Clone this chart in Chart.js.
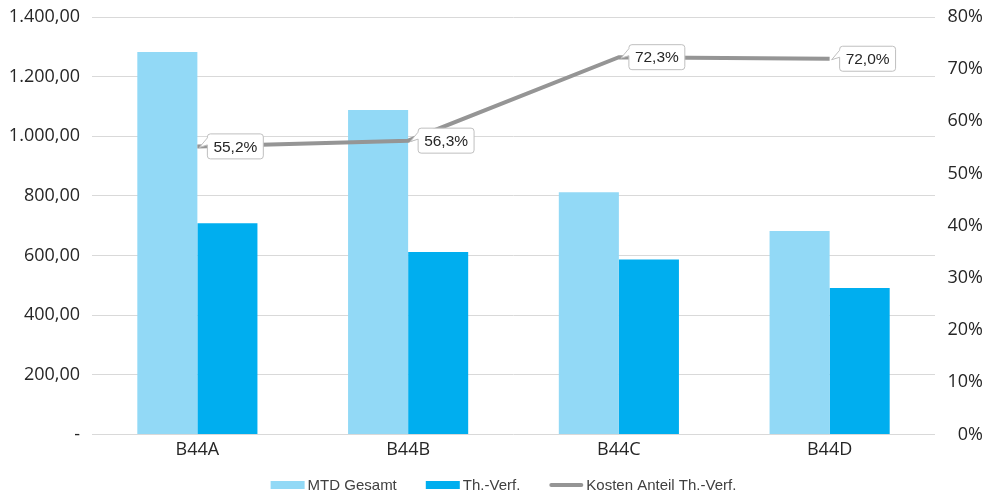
<!DOCTYPE html>
<html>
<head>
<meta charset="utf-8">
<script src="https://cdn.jsdelivr.net/npm/chart.js@4.4.1/dist/chart.umd.min.js"></script>
<style>
  html, body { margin: 0; padding: 0; background: #ffffff; }
  #wrap { width: 993px; height: 495px; position: relative; }
</style>
</head>
<body>
<div id="wrap"><canvas id="chart"></canvas></div>
<script>
// Categories and series
const categories = ['B44A', 'B44B', 'B44C', 'B44D'];
const mtdGesamt = [1283, 1088, 812, 682];
const thVerf = [708, 612, 587, 491];
const kostenAnteil = [55.2, 56.3, 72.3, 72.0]; // percent

const leftTicks = [0, 200, 400, 600, 800, 1000, 1200, 1400];
const rightTicks = [0, 10, 20, 30, 40, 50, 60, 70, 80];

// German number format: 1.400,00
function fmtDe(v, dec) {
  const s = v.toFixed(dec);
  const parts = s.split('.');
  const intPart = parts[0].replace(/\B(?=(\d{3})+(?!\d))/g, '.');
  return parts.length > 1 ? intPart + ',' + parts[1] : intPart;
}

// Callout boxes next to each point of the percentage line
const calloutPlugin = {
  id: 'callouts',
  afterDatasetsDraw(chart) {
    const ctx = chart.ctx;
    const meta = chart.getDatasetMeta(2);
    const ds = chart.data.datasets[2];
    ctx.save();
    ctx.font = '15.5px "Liberation Sans", Arial, sans-serif';
    meta.data.forEach((pt, i) => {
      const text = fmtDe(ds.data[i], 1) + '%';
      const tw = ctx.measureText(text).width;
      const w = tw + 12, h = 25;
      const left = pt.x + 10, top = pt.y - h / 2;
      const r = 3;
      ctx.beginPath();
      ctx.moveTo(left + r, top);
      ctx.lineTo(left + w - r, top);
      ctx.arcTo(left + w, top, left + w, top + r, r);
      ctx.lineTo(left + w, top + h - r);
      ctx.arcTo(left + w, top + h, left + w - r, top + h, r);
      ctx.lineTo(left + r, top + h);
      ctx.arcTo(left, top + h, left, top + h - r, r);
      ctx.lineTo(left, top + 11);
      ctx.lineTo(pt.x + 2, pt.y + 1);
      ctx.lineTo(left, top + 4);
      ctx.arcTo(left, top, left + r, top, r);
      ctx.closePath();
      ctx.fillStyle = '#ffffff';
      ctx.fill();
      ctx.strokeStyle = '#bfbfbf';
      ctx.lineWidth = 1;
      ctx.stroke();
      ctx.fillStyle = '#262626';
      ctx.textBaseline = 'middle';
      ctx.textAlign = 'left';
      ctx.fillText(text, left + 6, top + h / 2 + 1);
    });
    ctx.restore();
  }
};

// Legend row under the axis: swatch, label, in dataset order
const legendRowPlugin = {
  id: 'legendRow',
  afterDraw(chart) {
    const ctx = chart.ctx;
    const sw = 34, gap = 3, spacing = 29, cy = 485;
    ctx.save();
    ctx.font = '15px "Liberation Sans", Arial, sans-serif';
    const items = chart.data.datasets.map(ds => ({
      ds, tw: ctx.measureText(ds.label).width
    }));
    const total = items.reduce((s, it) => s + sw + gap + it.tw, 0) + spacing * (items.length - 1);
    let x = 503.5 - total / 2;
    items.forEach(it => {
      if (it.ds.type === 'line') {
        ctx.strokeStyle = it.ds.borderColor;
        ctx.lineWidth = 4;
        ctx.lineCap = 'round';
        ctx.beginPath();
        ctx.moveTo(x + 2, cy);
        ctx.lineTo(x + sw - 2, cy);
        ctx.stroke();
      } else {
        ctx.fillStyle = it.ds.backgroundColor;
        ctx.fillRect(x, cy - 4, sw, 8);
      }
      x += sw + gap;
      ctx.fillStyle = '#404040';
      ctx.textBaseline = 'middle';
      ctx.textAlign = 'left';
      ctx.fillText(it.ds.label, x, cy + 1);
      x += it.tw + spacing;
    });
    ctx.restore();
  }
};

// Value axes: no extra space reserved for the half-height of end labels
function noEndPadding(scale) {
  scale.paddingTop = 0;
  scale.paddingBottom = 0;
}

new Chart(document.getElementById('chart'), {
  data: {
    labels: categories,
    datasets: [
      {
        type: 'bar',
        label: 'MTD Gesamt',
        data: mtdGesamt,
        backgroundColor: '#92d9f6',
        yAxisID: 'y',
        order: 2
      },
      {
        type: 'bar',
        label: 'Th.-Verf.',
        data: thVerf,
        backgroundColor: '#00aeef',
        yAxisID: 'y',
        order: 2
      },
      {
        type: 'line',
        label: 'Kosten Anteil Th.-Verf.',
        data: kostenAnteil,
        borderColor: '#959595',
        backgroundColor: '#959595',
        borderWidth: 4,
        pointRadius: 0,
        pointHoverRadius: 0,
        tension: 0,
        yAxisID: 'y1',
        order: 1
      }
    ]
  },
  options: {
    responsive: true,
    maintainAspectRatio: false,
    animation: false,
    events: [],
    layout: { padding: { top: 17, bottom: 29, left: 0, right: 10 } },
    datasets: {
      bar: { categoryPercentage: 0.57, barPercentage: 1.0 }
    },
    plugins: {
      tooltip: { enabled: false },
      legend: { display: false }
    },
    scales: {
      x: {
        grid: { display: false, drawTicks: false },
        border: { display: false },
        ticks: {
          color: '#262626',
          padding: 5,
          font: { family: '"Open Sans", sans-serif', size: 18 }
        }
      },
      y: {
        position: 'left',
        min: 0,
        max: 1400,
        afterBuildTicks(scale) { scale.ticks = leftTicks.map(v => ({ value: v })); },
        afterFit(scale) { scale.width = 92; noEndPadding(scale); },
        grid: { color: '#d9d9d9', lineWidth: 1, drawTicks: false },
        border: { display: false },
        ticks: {
          color: '#262626',
          padding: 12,
          font: { family: '"Open Sans", sans-serif', size: 18 },
          callback: v => v === 0 ? '-' : fmtDe(v, 2)
        }
      },
      y1: {
        position: 'right',
        min: 0,
        max: 80,
        afterBuildTicks(scale) { scale.ticks = rightTicks.map(v => ({ value: v })); },
        afterFit(scale) { scale.width = 48; noEndPadding(scale); },
        grid: { display: false, drawTicks: false },
        border: { display: false },
        ticks: {
          color: '#262626',
          padding: 10,
          crossAlign: 'far',
          font: { family: '"Open Sans", sans-serif', size: 18 },
          callback: v => v + '%'
        }
      }
    }
  },
  plugins: [calloutPlugin, legendRowPlugin]
});
</script>
</body>
</html>
